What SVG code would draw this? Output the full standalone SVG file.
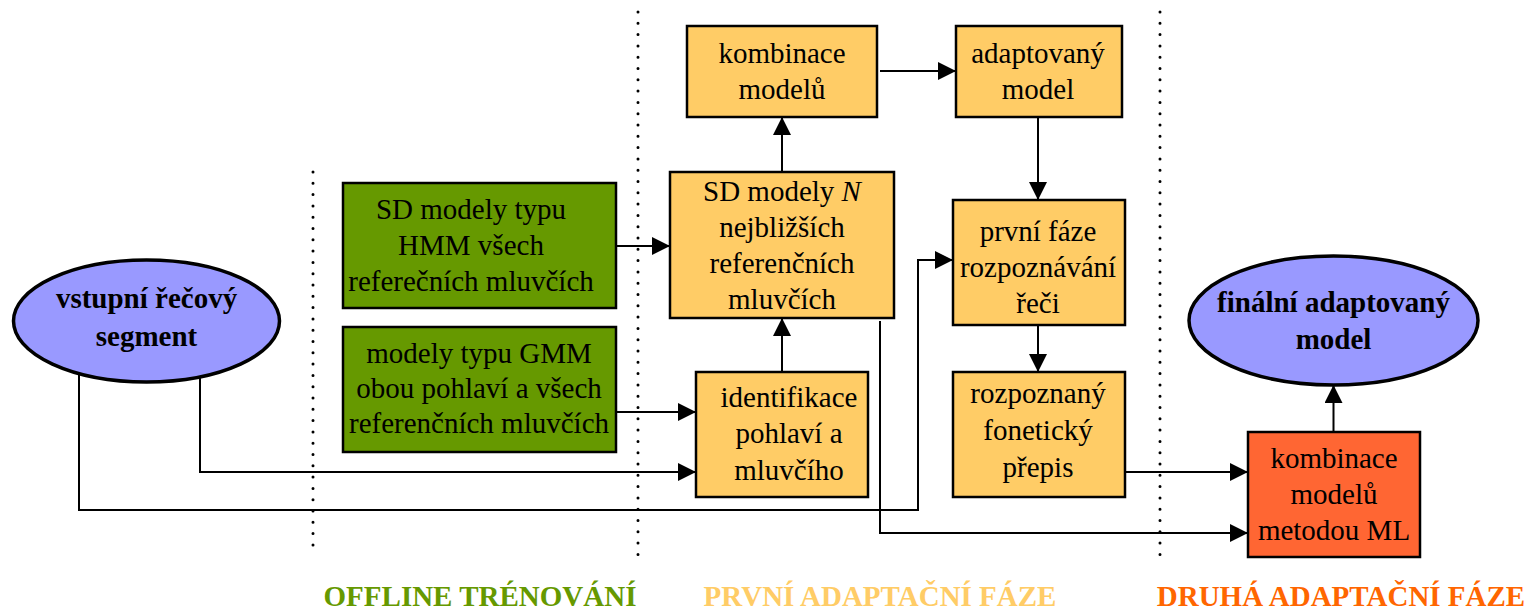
<svg xmlns="http://www.w3.org/2000/svg" width="1531" height="614" viewBox="0 0 1531 614">
<style>
text{font-family:"Liberation Serif","Times New Roman",serif;font-size:29px;fill:#000;text-anchor:middle}
.b{font-weight:bold}
.box{stroke:#000;stroke-width:2.5}
.y{fill:#FFCC66}
.g{fill:#669900}
.r{fill:#FF6633}
.e{fill:#9999FF;stroke:#000;stroke-width:3.5}
.c{fill:none;stroke:#000;stroke-width:2}
.dot{fill:none;stroke:#000;stroke-width:3;stroke-linecap:round;stroke-dasharray:0 11.3}
.foot{font-weight:bold;font-size:29px}
</style>
<defs>
<marker id="ah" viewBox="0 0 18 18" refX="17" refY="9" markerWidth="18" markerHeight="18" markerUnits="userSpaceOnUse" orient="auto">
<path d="M0,0 L18,9 L0,18 z" fill="#000"/>
</marker>
</defs>
<rect width="1531" height="614" fill="#fff"/>
<g id="separators">
<line class="dot" x1="313" y1="172" x2="313" y2="556"/>
<line class="dot" x1="638" y1="12" x2="638" y2="556"/>
<line class="dot" x1="1160" y1="12" x2="1160" y2="556"/>
</g>
<g id="connectors">
<path class="c" d="M880,71 H955" marker-end="url(#ah)"/>
<path class="c" d="M782,172 V118" marker-end="url(#ah)"/>
<path class="c" d="M1038,117 V199" marker-end="url(#ah)"/>
<path class="c" d="M616,246 H669" marker-end="url(#ah)"/>
<path class="c" d="M616,412 H695" marker-end="url(#ah)"/>
<path class="c" d="M200,376 V472 H695" marker-end="url(#ah)"/>
<path class="c" d="M79,373 V510 H918 V260 H952" marker-end="url(#ah)"/>
<path class="c" d="M782,372 V319" marker-end="url(#ah)"/>
<path class="c" d="M1038,325 V371" marker-end="url(#ah)"/>
<path class="c" d="M1125,472 H1247" marker-end="url(#ah)"/>
<path class="c" d="M880,321 V533 H1247" marker-end="url(#ah)"/>
<path class="c" d="M1333.5,432 V386" marker-end="url(#ah)"/>
</g>
<g id="n-input">
<ellipse class="e" cx="146.5" cy="321" rx="133" ry="61"/>
<text class="b" x="146.5" y="308">vstupní řečový</text>
<text class="b" x="146.5" y="346">segment</text>
</g>
<g id="n-hmm">
<rect class="box g" x="343" y="183" width="273" height="125"/>
<text x="471" y="219">SD modely typu</text>
<text x="471" y="255">HMM všech</text>
<text x="471" y="291">referečních mluvčích</text>
</g>
<g id="n-gmm">
<rect class="box g" x="343" y="327" width="273" height="125"/>
<text x="479" y="363">modely typu GMM</text>
<text x="479" y="398">obou pohlaví a všech</text>
<text x="479" y="433">referenčních mluvčích</text>
</g>
<g id="n-komb1">
<rect class="box y" x="687" y="26" width="190" height="91"/>
<text x="782" y="63">kombinace</text>
<text x="782" y="99">modelů</text>
</g>
<g id="n-adapt">
<rect class="box y" x="956" y="26" width="166" height="91"/>
<text x="1038" y="63">adaptovaný</text>
<text x="1038" y="99">model</text>
</g>
<g id="n-sd">
<rect class="box y" x="670" y="172" width="224" height="146"/>
<text x="782" y="201">SD modely <tspan font-style="italic">N</tspan></text>
<text x="782" y="237">nejbližších</text>
<text x="782" y="273">referenčních</text>
<text x="782" y="309">mluvčích</text>
</g>
<g id="n-ident">
<rect class="box y" x="696" y="372" width="172" height="125"/>
<text x="789" y="407">identifikace</text>
<text x="789" y="443">pohlaví a</text>
<text x="789" y="480">mluvčího</text>
</g>
<g id="n-prvni">
<rect class="box y" x="953" y="200" width="172" height="125"/>
<text x="1038" y="241">první fáze</text>
<text x="1038" y="277">rozpoznávání</text>
<text x="1038" y="313">řeči</text>
</g>
<g id="n-prepis">
<rect class="box y" x="953" y="372" width="172" height="125"/>
<text x="1038" y="403">rozpoznaný</text>
<text x="1038" y="440">fonetický</text>
<text x="1038" y="477">přepis</text>
</g>
<g id="n-ml">
<rect class="box r" x="1248" y="432" width="172" height="125"/>
<text x="1334" y="468">kombinace</text>
<text x="1334" y="504">modelů</text>
<text x="1334" y="540">metodou ML</text>
</g>
<g id="n-final">
<ellipse class="e" cx="1333.5" cy="320.5" rx="144.5" ry="64.5"/>
<text class="b" x="1333.5" y="312">finální adaptovaný</text>
<text class="b" x="1333.5" y="349">model</text>
</g>
<g id="labels">
<text class="foot" x="480" y="606" style="fill:#669900">OFFLINE TRÉNOVÁNÍ</text>
<text class="foot" x="880" y="606" style="fill:#FFCC66">PRVNÍ ADAPTAČNÍ FÁZE</text>
<text class="foot" x="1341" y="606" style="fill:#FF6600">DRUHÁ ADAPTAČNÍ FÁZE</text>
</g>
</svg>
